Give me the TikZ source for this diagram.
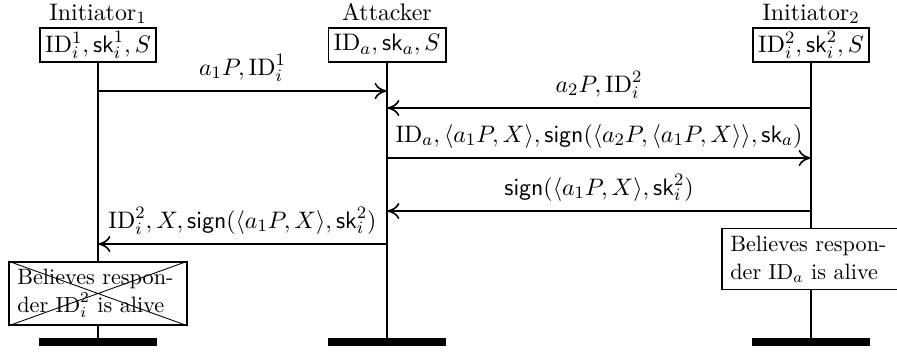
\documentclass[tikz,border=0pt]{standalone}
\usepackage{amsmath}
\usetikzlibrary{arrows.meta,positioning}
\tikzset{
  inst/.style={draw, line width=0.8pt, inner xsep=2.4pt, inner ysep=1pt, minimum height=15.6pt},
  iname/.style={inner sep=0pt, anchor=base},
  life/.style={line width=0.9pt},
  msg/.style={-{To[length=2mm, width=2.6mm]}, line width=0.75pt},
  mlbl/.style={midway, anchor=base, yshift=7.3pt, inner sep=0pt},
  act/.style={draw, line width=0.75pt, fill=white, text width=74pt, align=left,
    inner xsep=3.8pt, inner ysep=3.3pt, font=\fontsize{10.2}{12.8}\selectfont},
  cross/.style={line width=0.4pt},
}
\begin{document}
\begin{tikzpicture}[x=0.4587pt, y=-0.4587pt, font=\fontsize{10.95}{13.6}\selectfont]
  \useasboundingbox (0,0) rectangle (897,352);
  % instances, heads and end bars
  \foreach \n/\x/\t/\k in {
    i1/98/{Initiator$_1$}/{$\mathrm{ID}_i^1,\mathsf{sk}_i^1,S$},
    a/387/{Attacker}/{$\mathrm{ID}_a,\mathsf{sk}_a,S$},
    i2/811/{Initiator$_2$}/{$\mathrm{ID}_i^2,\mathsf{sk}_i^2,S$}}
  {
    \node[inst] (\n) at (\x,45) {\k};
    \node[iname] (\n name) at (\x,20) {\t};
    \coordinate (\n end) at (\x,338);
    \fill (\x-59,338) rectangle (\x+59,346);
  }
  % actions
  \node[act] (i1act) at (98,293.5) {\mbox{Believes respon-}\\der $\mathrm{ID}_i^2$ is alive};
  \draw[cross] (i1act.north west) -- (i1act.south east) (i1act.north east) -- (i1act.south west);
  \node[act] (i2act) at (811,259) {\mbox{Believes respon-}\\der $\mathrm{ID}_a$ is alive};
  % lifelines
  \draw[life] (i1) -- (i1act) (i1act) -- (i1end);
  \draw[life] (a) -- (aend);
  \draw[life] (i2) -- (i2act) (i2act) -- (i2end);
  % messages
  \foreach \y/\f/\t/\l in {
    91/i1/a/{$a_1P,\mathrm{ID}_i^1$},
    108/i2/a/{$a_2P,\mathrm{ID}_i^2$},
    158/a/i2/{$\mathrm{ID}_a,\langle a_1P,X\rangle,\mathsf{sign}(\langle a_2P,\langle a_1P,X\rangle\rangle,\mathsf{sk}_a)$},
    211/i2/a/{$\mathsf{sign}(\langle a_1P,X\rangle,\mathsf{sk}_i^2)$},
    244/a/i1/{$\mathrm{ID}_i^2,X,\mathsf{sign}(\langle a_1P,X\rangle,\mathsf{sk}_i^2)$}}
    \draw[msg] (\f |- 0,\y) -- (\t |- 0,\y) node[mlbl] {\l};
\end{tikzpicture}
\end{document}
